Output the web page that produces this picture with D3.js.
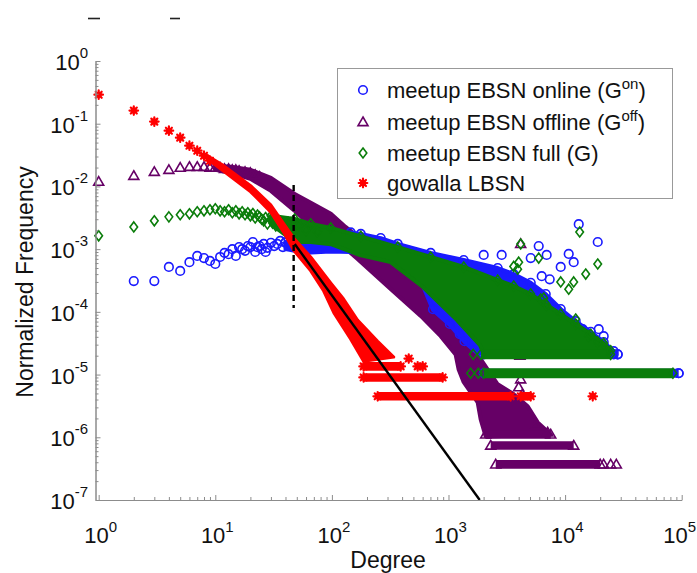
<!DOCTYPE html>
<html>
<head>
<meta charset="utf-8">
<script src="https://cdn.jsdelivr.net/npm/d3@7"></script>
<style>
  html, body { margin: 0; padding: 0; background: #fff; }
  svg { display: block; font-family: "Liberation Sans", Arial, Helvetica, sans-serif; }
</style>
</head>
<body>
<svg id="chart" width="697" height="573"></svg>
<script>
// ---------------- data ----------------
const xTickValues = [1, 10, 100, 1000, 10000, 100000];
const xTickExponents = ["0", "1", "2", "3", "4", "5"];
const yTickValues = [1, 1e-1, 1e-2, 1e-3, 1e-4, 1e-5, 1e-6, 1e-7];
const yTickExponents = ["0", "-1", "-2", "-3", "-4", "-5", "-6", "-7"];

const legendLabels = [
  { main: "meetup EBSN online (G", sup: "on", tail: ")" },
  { main: "meetup EBSN offline (G", sup: "off", tail: ")" },
  { main: "meetup EBSN full (G)", sup: "", tail: "" },
  { main: "gowalla LBSN", sup: "", tail: "" }
];

// meetup EBSN online: [degree, normalized frequency]
const onlinePoints = [
  [2,3.1e-4],[3,3.1e-4],[4,5.2e-4],[5,4.5e-4],[6,6.2e-4],[7,7.8e-4],[8,7.2e-4],[9,6.5e-4],
  [10,5.8e-4],[11,7.5e-4],[12,8.7e-4],[13,8.3e-4],[14,1.0e-3],[15,7.8e-4],[16,1.08e-3],
  [17,1.0e-3],[18,9.4e-4],[19,1.12e-3],[20,1.08e-3],[21,1.3e-3],[22,9.0e-4],[23,1.08e-3],
  [24,1.12e-3],[25,1.0e-3],[26,1.21e-3],[27,9.0e-4],[28,1.05e-3],[30,1.26e-3],[32,1.12e-3],
  [34,1.21e-3],[36,1.35e-3],[38,1.08e-3],[40,1.26e-3],[43,1.16e-3],[46,1.4e-3],
  [13090,2.5e-3],[19050,1.3e-3],[5940,1.12e-3],[2004,8.1e-4],[2858,8.1e-4],[6950,8.1e-4],
  [10740,8.4e-4],[11850,6.2e-4],[9170,5.2e-4],[5073,7.2e-4],[6300,3.7e-4],[7380,3.3e-4],
  [7530,7.7e-5],[14160,5.3e-5],[19430,5.3e-5],[21430,4.1e-5],[11170,4.3e-5],[19050,3.05e-5],
  [26120,2.1e-5],[28270,2.1e-5],[94200,1.05e-5],
  [736,1.1e-4],[1027,6.4e-5],[1250,4.4e-5],[1372,3.4e-5]
];
const onlineBandTop = [
  [40,1.3e-3],[48,1.5e-3],[66,1.75e-3],[98,1.9e-3],[145,1.85e-3],[177,1.75e-3],[262,1.5e-3],
  [367,1.21e-3],[703,8.7e-4],[1350,6.7e-4],[2642,5.0e-4],[3624,4.0e-4],[5073,2.9e-4],
  [6820,1.92e-4],[9170,1.11e-4],[12330,7.1e-5],[16590,4.8e-5],[21430,3.3e-5],[26120,2.36e-5]
];
const onlineBandBottom = [
  [40,1.0e-3],[48,9.4e-4],[66,8.8e-4],[98,9.2e-4],[145,9.0e-4],[174,8.6e-4],[319,6.6e-4],
  [604,2.6e-4],[736,1.07e-4],[1027,6.2e-5],[1372,3.3e-5],[1760,2.2e-5],[2004,2.1e-5]
];
// [frequency, first degree, last degree]
const onlineRows = [[1.05e-5, 2004, 94200], [2.1e-5, 2004, 28270]];

// meetup EBSN offline
const offlinePoints = [
  [1,1.19e-2],[2,1.48e-2],[3,1.71e-2],[4,1.84e-2],[5,1.99e-2],[6,2.06e-2],[7,2.06e-2],
  [8,2.06e-2],[9,1.99e-2],[10,1.99e-2],[11,1.99e-2],[12,1.91e-2],[13,1.91e-2],[14,1.84e-2],
  [15,1.84e-2],[16,1.78e-2],[18,1.71e-2],[20,1.65e-2],[22,1.53e-2],[24,1.43e-2],
  [4160,1.21e-3],[4160,8.4e-6],[4000,6.3e-6],[4300,4.85e-6],[4100,2.0e-5],
  [5660,1.6e-6],[7090,1.2e-6],[21400,3.7e-7],[24600,3.7e-7],[27500,3.7e-7]
];
const offlineBandTop = [
  [10,0.0215],[13.6,0.0206],[20,0.0184],[30,0.0137],[48,0.0076],[66,0.0055],[98,0.00366],
  [131,0.00226],[215,0.00108],[389,4.3e-4],[703,1.92e-4],[1045,1.11e-4],[1350,3.67e-5],
  [1888,1.76e-5],[2642,7.0e-6],[3624,4.85e-6],[4779,3.12e-6],[5825,1.73e-6],[7530,1.11e-6]
];
const offlineBandBottom = [
  [10,0.0184],[13.6,0.0165],[20,0.0132],[30,0.0085],[48,0.00408],[66,0.00235],[98,0.00163],
  [166,6.97e-4],[319,2.31e-4],[578,8.6e-5],[857,4.1e-5],[1150,2.1e-5],[1222,1.2e-5],
  [1350,7.55e-6],[1779,3.6e-6],[1888,1.93e-6],[2084,1.03e-6]
];
const offlineRows = [[1.11e-6, 2084, 7530], [7.4e-7, 2300, 11850], [3.7e-7, 2541, 20000]];

// meetup EBSN full
const fullPoints = [
  [1,1.63e-3],[2,2.26e-3],[3,2.83e-3],[4,3.27e-3],[5,3.53e-3],[6,3.66e-3],[7,3.94e-3],
  [8,4.08e-3],[9,4.24e-3],[10,4.4e-3],[11,4.08e-3],[12,3.94e-3],[13,4.24e-3],[14,3.8e-3],
  [15,4.08e-3],[16,3.66e-3],[17,3.94e-3],[18,3.53e-3],[19,3.8e-3],[20,3.4e-3],[21,3.7e-3],
  [22,3.15e-3],[23,3.5e-3],[24,3.27e-3],[25,3.0e-3],[26,2.83e-3],[27,3.2e-3],[28,2.53e-3],
  [30,2.93e-3],[31,2.6e-3],[33,2.35e-3],[35,2.9e-3],[36,2.73e-3],[38,2.45e-3],[40,2.26e-3],
  [42,2.7e-3],[44,2.63e-3],[46,2.2e-3],[52,2.4e-3],[60,2.0e-3],[75,1.9e-3],
  [13340,1.88e-3],[19050,5.8e-4],[15030,4.0e-4],[5940,7.2e-4],[9170,3.0e-4],[11850,3.0e-4],
  [10740,2.3e-4],[6180,1.6e-4],[6950,1.28e-4],[6560,1.66e-4],[12330,7.7e-5],[15930,4.1e-5],
  [19050,3.3e-5],[4160,1.21e-3],[3918,4.8e-4],[4000,6.2e-4],[3624,5.3e-4],
  [1549,1.05e-5],[1800,1.05e-5],[1630,2.1e-5]
];
const fullBandTop = [
  [30,3.4e-3],[48,3.04e-3],[66,2.53e-3],[98,2.18e-3],[177,1.6e-3],[367,1.08e-3],
  [703,7.5e-4],[1350,5.2e-4],[2642,3.2e-4],[3624,2.58e-4],[5073,1.92e-4],[6820,1.33e-4],
  [9170,9.2e-5],[12330,6.4e-5],[16590,4.4e-5],[21430,3.15e-5],[24610,2.4e-5]
];
const fullBandBottom = [
  [30,2.5e-3],[48,1.3e-3],[66,1.3e-3],[98,1.2e-3],[174,8.05e-4],[319,6.2e-4],
  [604,2.49e-4],[1183,7.4e-5],[1862,2.95e-5],[2004,2.2e-5]
];
const fullRows = [[1.05e-5, 2004, 84100], [2.1e-5, 1900, 24610]];

// gowalla LBSN
const gowallaPoints = [
  [1,0.29],[2,0.162],[3,0.108],[4,0.0775],[5,0.06],[6,0.0446],[7,0.0371],[8,0.0309],[9,0.0257],
  [456,1.8e-5],[544,1.35e-5],[601,1.35e-5],[17260,4.5e-6]
];
const gowallaBandTop = [
  [8.3,0.032],[11.8,0.0215],[20.1,0.0103],[29.9,0.0051],[38.6,0.00255],[47,0.00151],
  [65.8,7.5e-4],[97.7,2.9e-4],[126,1.6e-4],[166,7.4e-5],[247,3.4e-5],[339,1.9e-5]
];
const gowallaBandBottom = [
  [8.3,0.0285],[11.8,0.0175],[20.1,0.0082],[29.9,0.0039],[38.6,0.00185],[47,9.6e-4],
  [65.8,4.5e-4],[85,2.15e-4],[104,9.6e-5],[145,3.67e-5],[187,1.63e-5]
];
const gowallaRows = [[1.35e-5, 187, 389], [9.0e-6, 187, 891], [4.5e-6, 247, 3413], [4.5e-6, 4160, 5073]];

// power-law fit and the lower cut-off degree
const fitLine = [[48, 1.21e-3], [1853, 1e-7]];
const cutoffLine = [[47, 0.0105], [47, 1.15e-4]];

// ---------------- drawing ----------------
const svg = d3.select("#chart");
const x = d3.scaleLog().domain([0.939, 1e5]).range([95.5, 681.7]);
const y = d3.scaleLog().domain([1e-7, 1]).range([500, 61]);

const COLORS = { online: "#1a1aff", offline: "#660066", full: "#0a7d0a", gowalla: "#ff0000" };

function drawMarker(g, type, color, cx, cy) {
  const m = g.append("g").attr("transform", `translate(${cx},${cy})`);
  if (type === "circle") {
    m.append("circle").attr("r", 4.3).attr("fill", "none").attr("stroke", color).attr("stroke-width", 1.6);
  } else if (type === "triangle") {
    m.append("path").attr("d", "M0,-5L5,3.6L-5,3.6Z").attr("fill", "none")
      .attr("stroke", color).attr("stroke-width", 1.6).attr("stroke-linejoin", "miter");
  } else if (type === "diamond") {
    m.append("path").attr("d", "M0,-5L3.8,0L0,5L-3.8,0Z").attr("fill", "none")
      .attr("stroke", color).attr("stroke-width", 1.6);
  } else {
    m.append("circle").attr("r", 3).attr("fill", color);
    m.append("path").attr("d", "M-4.3,0L4.3,0M0,-4.3L0,4.3M-3,-3L3,3M-3,3L3,-3")
      .attr("stroke", color).attr("stroke-width", 2.2).attr("stroke-linecap", "round");
  }
}

const series = [
  { key: "offline", marker: "triangle", points: offlinePoints, top: offlineBandTop, bottom: offlineBandBottom, rows: offlineRows, rowWidth: 8.6, edge: 4, topMarks: false },
  { key: "online", marker: "circle", points: onlinePoints, top: onlineBandTop, bottom: onlineBandBottom, rows: onlineRows, rowWidth: 9, edge: 4, topMarks: true },
  { key: "full", marker: "diamond", points: fullPoints, top: fullBandTop, bottom: fullBandBottom, rows: fullRows, rowWidth: 10, edge: 4, topMarks: true },
  { key: "gowalla", marker: "star", points: gowallaPoints, top: gowallaBandTop, bottom: gowallaBandBottom, rows: gowallaRows, rowWidth: 8.6, edge: 3, topMarks: false }
];

const plot = svg.append("g");
const line = d3.line();

series.forEach(s => {
  const color = COLORS[s.key];
  const g = plot.append("g").attr("class", "series-" + s.key);
  // dense region of overlapping markers
  const poly = s.top.map(p => [x(p[0]), y(p[1])])
    .concat(s.bottom.slice().reverse().map(p => [x(p[0]), y(p[1])]));
  g.append("path").attr("d", line(poly) + "Z")
    .attr("fill", color).attr("stroke", color).attr("stroke-width", s.edge).attr("stroke-linejoin", "round");
  // quantized frequency rows (1/N, 2/N, ...)
  s.rows.forEach(r => {
    g.append("line")
      .attr("x1", x(r[1])).attr("x2", x(r[2]))
      .attr("y1", y(r[0])).attr("y2", y(r[0]))
      .attr("stroke", color).attr("stroke-width", s.rowWidth);
    drawMarker(g, s.marker, color, x(r[1]), y(r[0]));
    drawMarker(g, s.marker, color, x(r[2]), y(r[0]));
  });
  if (s.topMarks) {
    s.top.forEach(p => drawMarker(g, s.marker, color, x(p[0]), y(p[1])));
  }
  s.points.forEach(p => drawMarker(g, s.marker, color, x(p[0]), y(p[1])));
});

// fit line, clipped to the axes box
svg.append("clipPath").attr("id", "plotclip").append("rect")
  .attr("x", 95.5).attr("y", 61).attr("width", 681.7 - 95.5).attr("height", 500 - 61);
svg.append("path").attr("clip-path", "url(#plotclip)")
  .attr("d", line(fitLine.map(p => [x(p[0]), y(p[1])])))
  .attr("stroke", "#000").attr("stroke-width", 2.4).attr("fill", "none");
svg.append("path")
  .attr("d", line(cutoffLine.map(p => [x(p[0]), y(p[1])])))
  .attr("stroke", "#000").attr("stroke-width", 2.4).attr("stroke-dasharray", "6,4").attr("fill", "none");

// ---------------- axes ----------------
const AXIS_COLOR = "#8c8c8c";
const minorX = [], minorY = [];
for (let e = 0; e < 5; e++) for (let k = 2; k <= 9; k++) minorX.push(k * Math.pow(10, e));
for (let e = -7; e < 0; e++) for (let k = 2; k <= 9; k++) minorY.push(k * Math.pow(10, e));

function styleAxis(g) {
  g.selectAll("path,line").attr("stroke", AXIS_COLOR);
  g.selectAll("text").remove();
}
svg.append("g").attr("transform", "translate(0,500)")
  .call(d3.axisBottom(x).tickValues(minorX).tickSize(-3).tickSizeOuter(0).tickFormat(""))
  .call(styleAxis);
svg.append("g").attr("transform", "translate(0,500)")
  .call(d3.axisBottom(x).tickValues(xTickValues).tickSize(-5).tickSizeOuter(0).tickFormat(""))
  .call(styleAxis);
svg.append("g").attr("transform", "translate(95.5,0)")
  .call(d3.axisLeft(y).tickValues(minorY).tickSize(-3).tickSizeOuter(0).tickFormat(""))
  .call(styleAxis);
svg.append("g").attr("transform", "translate(95.5,0)")
  .call(d3.axisLeft(y).tickValues(yTickValues).tickSize(-5).tickSizeOuter(0).tickFormat(""))
  .call(styleAxis);

// tick labels with superscript exponents
xTickValues.forEach((v, i) => {
  const last = i === xTickValues.length - 1;
  const t = svg.append("text").attr("x", last ? 696 : x(v) + 2).attr("y", 543)
    .attr("text-anchor", last ? "end" : "middle").attr("font-size", 22).attr("fill", "#111");
  t.append("tspan").text("10");
  t.append("tspan").attr("dy", -11).attr("font-size", 15).text(xTickExponents[i]);
});
yTickValues.forEach((v, i) => {
  const t = svg.append("text").attr("x", 88).attr("y", y(v) + 9)
    .attr("text-anchor", "end").attr("font-size", 22).attr("fill", "#111");
  t.append("tspan").text("10");
  t.append("tspan").attr("dy", -12).attr("font-size", 15).text(yTickExponents[i]);
});

// axis titles
svg.append("text").attr("x", 388).attr("y", 568).attr("text-anchor", "middle")
  .attr("font-size", 23).attr("fill", "#111").text("Degree");
svg.append("text").attr("transform", "translate(33,282) rotate(-90)").attr("text-anchor", "middle")
  .attr("font-size", 23).attr("fill", "#111").text("Normalized Frequency");

// leftover strokes of the cropped heading
svg.append("line").attr("x1", 88).attr("x2", 100).attr("y1", 18.5).attr("y2", 18.5).attr("stroke", "#222").attr("stroke-width", 1.6);
svg.append("line").attr("x1", 170).attr("x2", 180).attr("y1", 18.5).attr("y2", 18.5).attr("stroke", "#222").attr("stroke-width", 1.6);

// ---------------- legend ----------------
const legend = svg.append("g");
legend.append("rect").attr("x", 337.5).attr("y", 68.5).attr("width", 335).attr("height", 130)
  .attr("fill", "#fff").attr("stroke", "#999").attr("stroke-width", 1);
const legendKeys = ["online", "offline", "full", "gowalla"];
const legendMarkers = ["circle", "triangle", "diamond", "star"];
const rowY = [90, 122, 153, 183];
legendLabels.forEach((lab, i) => {
  drawMarker(legend, legendMarkers[i], COLORS[legendKeys[i]], 363, rowY[i]);
  const t = legend.append("text").attr("x", 387).attr("y", rowY[i] + 7.5)
    .attr("font-size", 22).attr("fill", "#111");
  t.append("tspan").text(lab.main);
  if (lab.sup) {
    t.append("tspan").attr("dy", -9).attr("font-size", 15).text(lab.sup);
    t.append("tspan").attr("dy", 9).text(lab.tail);
  }
});
</script>
</body>
</html>
